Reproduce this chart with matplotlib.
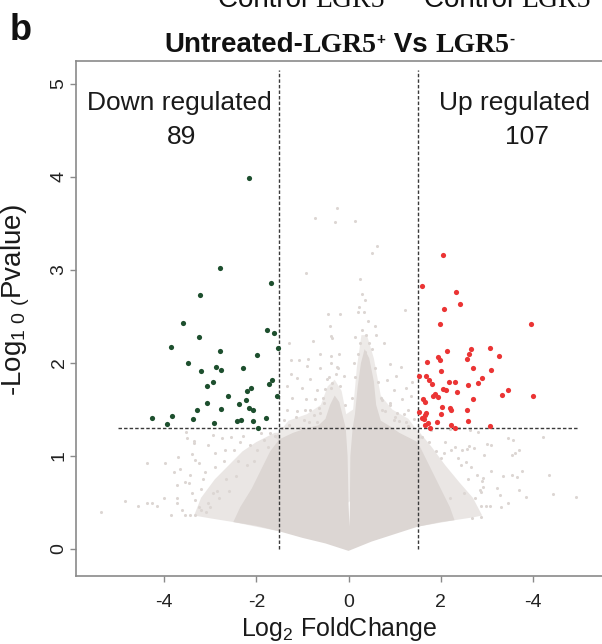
import matplotlib
matplotlib.use('Agg')
import matplotlib.pyplot as plt

plt.rcParams['font.family'] = ['Liberation Sans', 'DejaVu Sans']
plt.rcParams['mathtext.default'] = 'regular'

# ---------------- data ----------------
fc_cut = 1.5
p_cut = 1.3
n_down = 89
n_up = 107
x_ticks = [-4, -2, 0, 2, 4]
x_tick_labels = ['-4', '-2', '0', '2', '-4']
y_ticks = [0, 1, 2, 3, 4, 5]

# significantly down-regulated genes (green)
down_x = [-2.15, -2.79, -1.69, -3.22, -3.60, -3.25, -1.76, -1.61, -3.85, -2.79,
          -1.52, -1.99, -3.49, -3.21, -2.88, -2.76, -2.29, -2.93, -3.08, -1.65,
          -1.73, -2.12, -2.20, -2.61, -1.55, -2.22, -3.07, -2.38, -3.29, -2.76,
          -2.17, -2.07, -4.27, -3.84, -3.38, -2.41, -2.33, -2.07, -1.78, -2.92,
          -3.93, -1.96]
down_y = [3.99, 3.02, 2.86, 2.73, 2.43, 2.28, 2.35, 2.32, 2.17, 2.13,
          2.16, 2.09, 2.00, 1.91, 1.96, 1.92, 1.95, 1.80, 1.75, 1.82,
          1.77, 1.73, 1.70, 1.65, 1.65, 1.60, 1.57, 1.56, 1.49, 1.51,
          1.52, 1.49, 1.41, 1.43, 1.40, 1.38, 1.39, 1.38, 1.41, 1.36,
          1.34, 1.30]

# significantly up-regulated genes (red)
up_x = [2.06, 1.60, 2.33, 2.42, 2.07, 1.99, 3.96, 2.13, 2.66, 2.62,
        3.08, 3.27, 1.95, 1.99, 1.71, 2.57, 2.70, 3.10, 2.00, 1.52,
        1.69, 1.75, 1.82, 2.19, 2.32, 2.89, 2.80, 2.59, 2.04, 2.12,
        2.36, 3.45, 3.33, 4.01, 1.88, 1.83, 1.94, 1.62, 1.67, 2.70,
        2.02, 2.20, 2.22, 2.57, 1.54, 1.69, 1.67, 2.00, 1.59, 1.64,
        1.92, 2.59, 1.72, 1.67, 2.23, 2.30, 1.76, 3.06]
up_y = [3.16, 2.83, 2.76, 2.63, 2.58, 2.42, 2.42, 2.13, 2.15, 2.10,
        2.16, 2.07, 2.06, 2.03, 2.01, 2.04, 1.95, 1.93, 1.91, 1.86,
        1.86, 1.82, 1.77, 1.80, 1.80, 1.84, 1.78, 1.76, 1.72, 1.71,
        1.69, 1.71, 1.66, 1.65, 1.67, 1.64, 1.63, 1.61, 1.58, 1.61,
        1.53, 1.52, 1.50, 1.49, 1.47, 1.46, 1.44, 1.45, 1.41, 1.40,
        1.37, 1.38, 1.35, 1.33, 1.33, 1.30, 1.30, 1.32]

# non-significant genes, scattered individual points (grey)
ns_x = [-5.38, -4.84, -4.56, -4.38, -4.27, -4.16, -4.38, -3.99, -4.01, -3.86,
        -3.79, -3.69, -3.72, -3.65, -3.54, -3.47, -3.50, -3.73, -3.73, -3.62,
        -3.54, -3.45, -3.34, -3.40, -3.33, -3.35, -3.25, -3.43, -3.40, -3.33,
        -3.20, -3.11, -3.04, -2.95, -2.89, -2.75, -3.53, -3.36, -2.67, -2.49,
        -2.28, -1.84, -1.98, -1.70, -2.13, -3.00, -2.80, -3.10, -2.60, -2.90,
        -2.45, -2.70, -2.20, -2.35, -2.55, -1.90, -2.05, -3.15, -2.95, -3.25,
        -0.25, -0.73, -0.30, 0.15, 0.62, 0.50, -0.93, 0.25, 0.29, 0.36,
        1.23, -0.45, -0.19, 0.20, 0.22, -0.41, 0.58, -0.39, -0.35, 0.13,
        -0.77, -1.29, 0.78, -0.61, -0.21, 0.25, 0.36, -1.25, -1.07, -0.88,
        -0.39, 0.91, 1.13, -0.90, -0.61, -0.25, -1.25, -1.12, -0.83, -0.46,
        -0.10, 0.84, 1.02, 1.38, -1.33, -1.01, -0.68, -0.39, 0.99, 1.24,
        -1.22, -0.93, -0.72, -0.54, 0.70, 0.91, 1.17, 1.35, -1.33, -1.12,
        -0.83, -0.61, 0.73, 1.06, 1.28, -1.41, -0.97, -0.68, 0.99, 1.24,
        4.23, 3.46, 3.56, 3.01, 3.09, 3.70, 3.61, 3.54, 2.93, 3.09,
        3.35, 3.54, 3.65, 3.76, 4.36, 3.22, 3.69, 3.86, 4.43, 4.94,
        3.29, 3.46, 2.86, 2.91, 2.87, 2.78, 2.91, 2.89, 3.30, 3.07,
        2.98, 2.87, 2.69, 2.87, 2.62, 2.72, 2.80, 2.64, 2.20, 2.40,
        2.47, 2.58, 2.38, 2.54, 2.65, 2.23, 2.07, 2.00,
        -1.45, -1.30, -1.15, -1.05, -0.95, -0.85, -0.75, -0.65, -0.55, -0.50,
        -0.42, -0.35, -0.28, -0.18, -0.08, 0.08, 0.15, 0.20, 0.30, 0.38,
        0.45, 0.50, 0.58, 0.65, 0.72, 0.80, 0.90, 1.00, 1.10, 1.20,
        1.30, 1.42, 0.42, 0.33, -0.38, -0.22, 0.60, 0.12,
        1.60, 1.75, 1.90, 2.10, 1.80, 2.30, 2.45, 2.60, 2.75, 2.50, 2.20,
        -1.60, -1.75, -2.40, -2.65, -2.85, -3.05, -3.20]
ns_y = [0.40, 0.52, 0.46, 0.50, 0.49, 0.46, 0.92, 0.93, 0.55, 0.37,
        0.83, 0.99, 0.69, 0.86, 0.72, 0.71, 1.19, 0.55, 0.50, 0.42,
        0.37, 0.37, 0.37, 1.02, 0.96, 1.16, 0.92, 0.80, 0.60, 0.53,
        0.65, 0.83, 1.12, 1.23, 1.03, 1.19, 1.26, 1.14, 1.07, 1.07,
        1.21, 1.17, 1.07, 1.25, 1.12, 0.45, 0.55, 0.40, 0.62, 0.88,
        0.78, 0.95, 0.90, 1.15, 1.20, 1.25, 0.95, 0.75, 0.60, 0.45,
        3.67, 3.56, 3.52, 3.53, 3.26, 3.18, 2.97, 2.90, 2.74, 2.68,
        2.57, 2.53, 2.53, 2.55, 2.60, 2.40, 2.40, 2.29, 2.27, 2.28,
        2.24, 2.22, 2.21, 2.10, 2.10, 2.21, 2.12, 2.03, 2.03, 2.04,
        2.07, 1.99, 1.96, 1.97, 1.95, 1.96, 1.88, 1.84, 1.83, 1.83,
        1.86, 1.82, 1.86, 1.80, 1.75, 1.73, 1.71, 1.73, 1.71, 1.73,
        1.62, 1.61, 1.61, 1.57, 1.62, 1.57, 1.61, 1.64, 1.50, 1.48,
        1.50, 1.46, 1.50, 1.46, 1.50, 1.39, 1.39, 1.37, 1.39, 1.37,
        1.20, 1.19, 1.17, 1.13, 1.12, 1.07, 1.03, 1.01, 1.01, 0.84,
        0.79, 0.80, 0.77, 0.84, 0.80, 0.66, 0.63, 0.56, 0.59, 0.56,
        0.58, 0.50, 0.64, 0.67, 0.61, 0.80, 0.76, 0.73, 0.45, 0.46,
        0.46, 0.46, 0.33, 0.34, 1.11, 1.09, 1.26, 1.28, 1.29, 1.30,
        1.07, 1.08, 0.98, 0.94, 0.88, 1.07, 1.03, 0.98,
        1.30, 1.33, 1.42, 1.30, 1.50, 1.37, 1.44, 1.52, 1.62, 1.72,
        1.85, 1.78, 1.88, 1.75, 1.55, 1.62, 1.85, 2.10, 2.35, 2.30,
        2.22, 2.15, 1.95, 1.80, 1.60, 1.48, 1.55, 1.42, 1.38, 1.45,
        1.32, 1.40, 2.45, 2.55, 2.00, 1.95, 2.30, 2.00,
        1.20, 1.15, 1.05, 1.15, 1.28, 1.10, 0.90, 0.75, 0.55, 0.60, 0.55,
        1.22, 1.10, 0.95, 0.75, 0.62, 0.50, 0.42]

# outline of the dense, fully covered core of the grey cloud
core_x = [0.00, 0.50, 1.00, 1.50, 2.00, 2.30, 2.20, 2.00, 1.80, 1.60,
          1.50, 1.30, 1.10, 0.90, 0.70, 0.60, 0.55, 0.45, 0.35, 0.27,
          0.20, 0.14, 0.09, 0.04, 0.03, 0.02, 0.00, -0.02, -0.06, -0.12,
          -0.20, -0.30, -0.40, -0.50, -0.65, -0.90, -1.20, -1.50, -1.70, -1.90,
          -2.10, -2.35, -2.50, -2.00, -1.50, -1.00, -0.50]
core_y = [-0.02, 0.08, 0.16, 0.24, 0.29, 0.31, 0.45, 0.65, 0.85, 1.05,
          1.15, 1.20, 1.25, 1.32, 1.38, 1.55, 1.80, 2.05, 2.15, 2.00,
          1.75, 1.45, 1.30, 1.00, 0.50, 0.24, 0.50, 1.00, 1.30, 1.42,
          1.58, 1.65, 1.55, 1.40, 1.33, 1.30, 1.25, 1.18, 1.05, 0.85,
          0.65, 0.45, 0.29, 0.25, 0.19, 0.12, 0.06]

# outlines of the medium-density margins of the grey cloud
wing_left_x = [-1.5, -2.5, -3.0, -3.35, -3.2, -2.9, -2.6, -2.3, -2.0, -1.6, -1.5]
wing_left_y = [0.19, 0.29, 0.33, 0.36, 0.55, 0.75, 0.90, 1.05, 1.15, 1.25, 1.25]
wing_right_x = [1.5, 2.3, 2.7, 2.9, 2.7, 2.4, 2.1, 1.8, 1.55, 1.5]
wing_right_y = [0.24, 0.31, 0.34, 0.36, 0.55, 0.72, 0.90, 1.10, 1.25, 1.20]
halo_x = [-1.6, -1.3, -0.9, -0.6, -0.45, -0.3, -0.15, -0.05, 0.10, 0.18,
          0.28, 0.40, 0.55, 0.70, 0.95, 1.30, 1.60, 0.0]
halo_y = [1.20, 1.38, 1.45, 1.55, 1.75, 1.82, 1.70, 1.45, 1.50, 1.95,
          2.30, 2.30, 2.05, 1.65, 1.50, 1.40, 1.20, 0.50]

# ---------------- figure ----------------
W, H = 602, 644
GREY = '#DCD6D3'
GREEN = '#1D4F2E'
RED = '#EB3434'

fig = plt.figure(figsize=(W / 100, H / 100), dpi=100)
ax = fig.add_axes([76 / W, 1 - 576 / H, 1 - 76 / W, (576 - 61) / H])
ax.set_xlim(-5.913, 5.5)
ax.set_ylim(-0.29, 5.247)

ax.fill(wing_left_x, wing_left_y, color=GREY, alpha=0.6, lw=0, zorder=1)
ax.fill(wing_right_x, wing_right_y, color=GREY, alpha=0.6, lw=0, zorder=1)
ax.fill(halo_x, halo_y, color=GREY, alpha=0.5, lw=0, zorder=1)
ax.fill(core_x, core_y, color=GREY, lw=0, zorder=1)
ax.scatter(ns_x, ns_y, s=5, color=GREY, lw=0, zorder=2)

dash = (0, (2.5, 1.5))
ax.vlines([-fc_cut, fc_cut], 0, 5.15, colors='#3a3a3a', linestyles=dash, lw=1.0, zorder=3)
ax.hlines(p_cut, -5.0, 5.0, colors='#3a3a3a', linestyles=dash, lw=1.0, zorder=3)

ax.scatter(down_x, down_y, s=14, color=GREEN, lw=0, zorder=4)
ax.scatter(up_x, up_y, s=14, color=RED, lw=0, zorder=4)

ax.text(-3.66, 4.72, 'Down regulated', ha='center', va='baseline', fontsize=19, color='#1a1a1a')
ax.text(-3.63, 4.36, str(n_down), ha='center', va='baseline', fontsize=19, color='#1a1a1a')
ax.text(3.60, 4.72, 'Up regulated', ha='center', va='baseline', fontsize=19, color='#1a1a1a')
ax.text(3.87, 4.36, str(n_up), ha='center', va='baseline', fontsize=19, color='#1a1a1a')

for side in ['left', 'bottom', 'top']:
    ax.spines[side].set_color('#8a8a8a')
    ax.spines[side].set_linewidth(1.2)
ax.spines['right'].set_visible(False)

ax.set_xticks(x_ticks)
ax.set_xticklabels(x_tick_labels, fontsize=14, color='#222222')
ax.set_yticks(y_ticks)
ax.set_yticklabels([str(v) for v in y_ticks], fontsize=14, color='#222222',
                   rotation=90, va='center')
ax.tick_params(axis='both', length=4, width=1.0, color='#8a8a8a')
ax.tick_params(axis='x', pad=9)
ax.tick_params(axis='y', pad=2)

ax.set_xlabel(r'Log$_{2}$ FoldChange', fontsize=18, color='#1a1a1a', labelpad=3)
ax.set_ylabel(r'-Log$_{1\ 0\ (}$Pvalue)', fontsize=20, color='#1a1a1a')
ax.yaxis.set_label_coords(-0.083, 0.535)

# ---------------- mixed-font title and headers ----------------
renderer = fig.canvas.get_renderer()


def draw_pieces(pieces, x_px, base_px, align='center'):
    objs = []
    total = 0.0
    for txt, kw, dy in pieces:
        t = fig.text(0, 0, txt, ha='left', va='baseline', **kw)
        w = t.get_window_extent(renderer).width
        objs.append((t, w, dy))
        total += w
    x = x_px - total / 2 if align == 'center' else x_px
    for t, w, dy in objs:
        t.set_position((x / W, 1 - (base_px - dy) / H))
        x += w


sans_b = dict(family=['Liberation Sans', 'DejaVu Sans'], weight='bold', fontsize=20, color='#111111')
serif_b = dict(family=['Liberation Serif', 'DejaVu Serif'], weight='bold', fontsize=20, color='#111111')
sup_b = dict(family=['Liberation Sans', 'DejaVu Sans'], weight='bold', fontsize=11, color='#111111')

draw_pieces([('Untreated-', sans_b, 0), ('LGR5', serif_b, 0), ('+', sup_b, 8),
             (' Vs ', sans_b, 0), ('LGR5', serif_b, 0), ('-', sup_b, 9)],
            339, 52)

sans_r = dict(family=['Liberation Sans', 'DejaVu Sans'], fontsize=20, color='#111111')
serif_r = dict(family=['Liberation Serif', 'DejaVu Serif'], fontsize=20, color='#111111')
sup_r = dict(family=['Liberation Sans', 'DejaVu Sans'], fontsize=12, color='#111111')
draw_pieces([('Control ', sans_r, 0), ('LGR5', serif_r, 0), ('-', sup_r, 9)], 218, 7, align='left')
draw_pieces([('Control ', sans_r, 0), ('LGR5', serif_r, 0)], 424, 7, align='left')

fig.text(10 / W, 1 - 40 / H, 'b', fontsize=26, fontweight='bold', ha='left', va='baseline',
         color='#111111')

fig.savefig('out.png', dpi=100, facecolor='white')
